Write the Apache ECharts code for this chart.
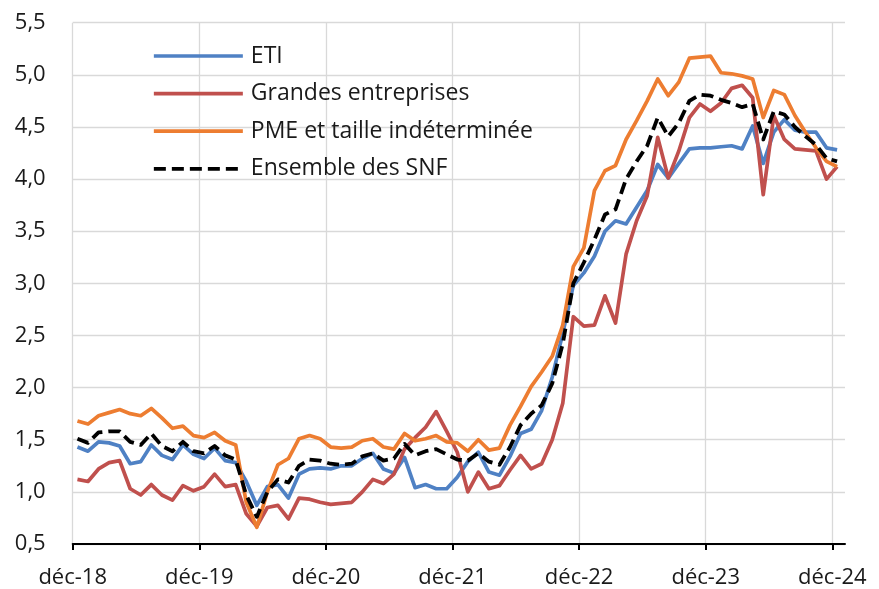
<!DOCTYPE html>
<html>
<head>
<meta charset="utf-8">
<script src="https://cdn.jsdelivr.net/npm/echarts@6/dist/echarts.min.js"></script>
<style>
html,body{margin:0;padding:0;background:#fff;}
#chart{width:879px;height:589px;}
</style>
</head>
<body>
<div id="chart"></div>
<script>
// Monthly observations, déc-18 … déc-24 (73 months)
const tickLabels = ['déc-18','déc-19','déc-20','déc-21','déc-22','déc-23','déc-24'];
const seriesNames = ['ETI','Grandes entreprises','PME et taille indéterminée','Ensemble des SNF'];

const eti = [1.43,1.39,1.48,1.47,1.44,1.27,1.29,1.45,1.35,1.31,1.45,1.36,1.32,
  1.42,1.30,1.28,1.10,0.87,1.05,1.07,0.94,1.17,1.22,1.23,1.22,
  1.25,1.25,1.32,1.37,1.22,1.18,1.33,1.04,1.07,1.03,1.03,1.14,
  1.29,1.38,1.19,1.16,1.34,1.56,1.60,1.78,2.10,2.52,2.98,3.10,
  3.26,3.50,3.60,3.57,3.73,3.89,4.14,4.01,4.15,4.29,4.30,4.30,
  4.31,4.32,4.29,4.51,4.15,4.45,4.57,4.47,4.45,4.45,4.30,4.28];

const grandes = [1.12,1.10,1.22,1.28,1.30,1.03,0.97,1.07,0.97,0.92,1.06,1.01,1.05,
  1.17,1.05,1.07,0.79,0.67,0.85,0.87,0.74,0.94,0.93,0.90,0.88,
  0.89,0.90,1.00,1.12,1.08,1.17,1.41,1.52,1.62,1.77,1.58,1.38,
  1.00,1.19,1.03,1.06,1.21,1.35,1.22,1.27,1.50,1.85,2.68,2.59,
  2.60,2.88,2.62,3.28,3.60,3.84,4.40,4.01,4.27,4.59,4.72,4.65,
  4.73,4.87,4.90,4.78,3.85,4.61,4.38,4.29,4.28,4.27,4.00,4.12];

const pme = [1.68,1.65,1.73,1.76,1.79,1.75,1.73,1.80,1.71,1.61,1.63,1.54,1.52,
  1.57,1.49,1.45,0.90,0.66,1.00,1.26,1.32,1.51,1.54,1.51,1.43,
  1.42,1.43,1.49,1.51,1.43,1.41,1.56,1.49,1.51,1.54,1.48,1.47,
  1.39,1.50,1.40,1.42,1.64,1.82,2.01,2.15,2.30,2.60,3.16,3.34,
  3.89,4.08,4.13,4.38,4.56,4.75,4.96,4.80,4.93,5.16,5.17,5.18,
  5.02,5.01,4.99,4.96,4.59,4.85,4.81,4.61,4.45,4.30,4.17,4.12];

const ensemble = [1.51,1.47,1.57,1.58,1.58,1.48,1.45,1.56,1.44,1.39,1.48,1.39,1.37,
  1.44,1.35,1.31,0.97,0.76,1.00,1.12,1.09,1.25,1.31,1.30,1.27,
  1.26,1.27,1.34,1.37,1.30,1.32,1.46,1.35,1.39,1.41,1.36,1.31,
  1.30,1.37,1.29,1.26,1.43,1.64,1.75,1.83,2.04,2.42,3.00,3.20,
  3.42,3.66,3.71,4.00,4.17,4.32,4.59,4.41,4.54,4.75,4.81,4.80,
  4.76,4.73,4.69,4.72,4.38,4.65,4.62,4.50,4.41,4.33,4.20,4.17];

// layout / style constants
const MONTHS_PER_TICK = 12;
const POINT_OFFSET = 0.45;   // observations plotted mid-month
const AXIS_MAX = 73.2;
const FONT = '"Open Sans", "DejaVu Sans", sans-serif';
const colors = ['#4F81C4','#C0504D','#ED7D31','#000000'];

const toXY = arr => arr.map((v, i) => [i + POINT_OFFSET, v]);
const tickValues = tickLabels.map((_, k) => k * MONTHS_PER_TICK);

const chart = echarts.init(document.getElementById('chart'), null, {renderer: 'canvas'});

const mkSeries = (name, arr, color, dashed) => ({
  name, type: 'line', data: toXY(arr), symbol: 'none', smooth: false,
  lineStyle: {color, width: dashed ? 3.8 : 3.7, type: dashed ? [12, 6] : 'solid', cap: 'butt', join: 'round'},
  itemStyle: {color},
  emphasis: {disabled: true},
  animation: false
});

chart.setOption({
  animation: false,
  backgroundColor: '#ffffff',
  textStyle: {fontFamily: FONT},
  grid: {left: 72.7, right: 34, top: 22.7, bottom: 44, containLabel: false},
  legend: {
    orient: 'vertical', left: 152, top: 44.5, padding: 0,
    itemWidth: 89, itemHeight: 24, itemGap: 14.6,
    data: seriesNames,
    itemStyle: {opacity: 0},
    lineStyle: {width: 3.7},
    textStyle: {fontFamily: FONT, fontSize: 23, color: '#1a1a1a', padding: [0, 0, 0, 3]},
    selectedMode: false
  },
  xAxis: {
    type: 'value', min: 0, max: AXIS_MAX,
    axisLine: {show: true, lineStyle: {color: '#000', width: 2}},
    axisTick: {show: true, length: 6, lineStyle: {color: '#000', width: 2}, customValues: tickValues},
    axisLabel: {
      customValues: tickValues,
      formatter: v => tickLabels[Math.round(v / MONTHS_PER_TICK)] || '',
      fontFamily: FONT, fontSize: 22, color: '#1a1a1a', margin: 23
    },
    splitLine: {show: true, lineStyle: {color: '#d9d9d9', width: 1.3}}
  },
  yAxis: {
    type: 'value', min: 0.5, max: 5.5, interval: 0.5,
    axisLine: {show: false}, axisTick: {show: false},
    axisLabel: {
      formatter: v => v.toFixed(1).replace('.', ','),
      fontFamily: FONT, fontSize: 22, color: '#1a1a1a', margin: 27
    },
    splitLine: {show: true, lineStyle: {color: '#d9d9d9', width: 1.3}}
  },
  series: [
    mkSeries(seriesNames[0], eti, colors[0], false),
    mkSeries(seriesNames[1], grandes, colors[1], false),
    mkSeries(seriesNames[2], pme, colors[2], false),
    mkSeries(seriesNames[3], ensemble, colors[3], true)
  ]
});
</script>
</body>
</html>
